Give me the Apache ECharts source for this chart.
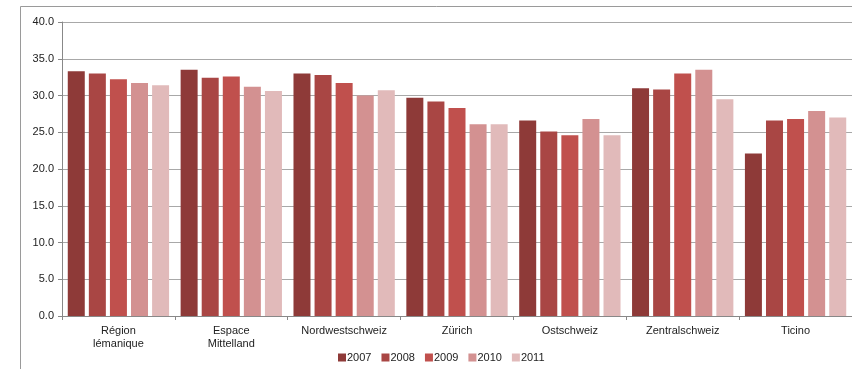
<!DOCTYPE html>
<html>
<head>
<meta charset="utf-8">
<script src="https://cdn.jsdelivr.net/npm/echarts@6/dist/echarts.min.js"></script>
<style>
  html, body { margin: 0; padding: 0; background: #fff; }
  #chart { width: 852px; height: 369px; }
</style>
</head>
<body>
<div id="chart"></div>
<script>
// regions and yearly values
var regions = ['Région\nlémanique', 'Espace\nMittelland', 'Nordwestschweiz', 'Zürich', 'Ostschweiz', 'Zentralschweiz', 'Ticino'];
var years = ['2007', '2008', '2009', '2010', '2011'];
var v2007 = [33.3, 33.5, 33.0, 29.7, 26.6, 31.0, 22.1];
var v2008 = [33.0, 32.4, 32.8, 29.2, 25.1, 30.8, 26.6];
var v2009 = [32.2, 32.6, 31.7, 28.3, 24.6, 33.0, 26.8];
var v2010 = [31.7, 31.2, 30.0, 26.1, 26.8, 33.5, 27.9];
var v2011 = [31.4, 30.6, 30.7, 26.1, 24.6, 29.5, 27.0];
var yearColors = ['#8e3a38', '#a94644', '#c0504d', '#d39191', '#e1baba'];

var seriesValues = [v2007, v2008, v2009, v2010, v2011];

var chart = echarts.init(document.getElementById('chart'));
var font = 'Liberation Sans, Arial, sans-serif';

var series = years.map(function (y, i) {
    return {
        name: y,
        type: 'bar',
        data: seriesValues[i],
        barWidth: 17,
        barGap: '24%',
        itemStyle: { color: yearColors[i] },
        emphasis: { disabled: true }
    };
});

var option = {
    animation: false,
    color: yearColors,
    textStyle: { fontFamily: font },
    graphic: [{
        type: 'polyline',
        shape: { points: [[20.5, 380], [20.5, 6.5], [860, 6.5]] },
        style: { fill: 'none', stroke: '#9a9a9a', lineWidth: 1 },
        silent: true
    }],
    grid: { left: 62, top: 22, right: 0, bottom: 53, containLabel: false },
    legend: {
        data: years,
        top: 347,
        left: 333,
        itemWidth: 8,
        itemHeight: 8,
        itemGap: 10,
        icon: 'rect',
        textStyle: { fontSize: 11, color: '#222', fontFamily: font, padding: [0, 0, 0, -4] }
    },
    xAxis: {
        type: 'category',
        data: regions,
        axisLine: { lineStyle: { color: '#888' } },
        axisTick: { show: true, length: 4, lineStyle: { color: '#888' } },
        axisLabel: { fontSize: 11, color: '#222', lineHeight: 13, margin: 8, fontFamily: font }
    },
    yAxis: {
        type: 'value',
        min: 0, max: 40, interval: 5,
        axisLine: { show: true, lineStyle: { color: '#888' } },
        axisTick: { show: true, length: 4, lineStyle: { color: '#888' } },
        splitLine: { lineStyle: { color: '#a8a8a8', width: 1 } },
        axisLabel: {
            fontSize: 11, color: '#222', margin: 8, fontFamily: font,
            formatter: function (v) { return v.toFixed(1); }
        }
    },
    series: series
};
chart.setOption(option);
</script>
</body>
</html>
